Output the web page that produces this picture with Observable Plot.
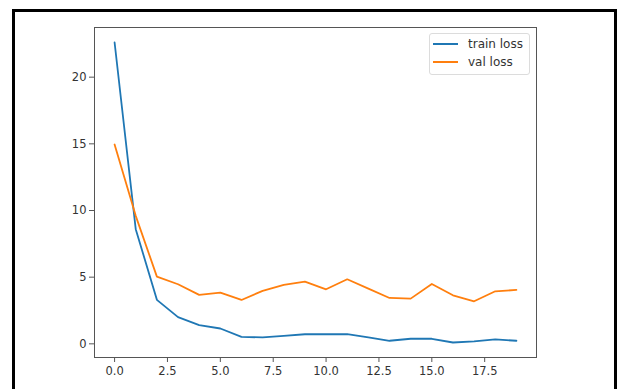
<!DOCTYPE html>
<html>
<head>
<meta charset="utf-8">
<script src="https://cdn.jsdelivr.net/npm/d3@7"></script>
<script src="https://cdn.jsdelivr.net/npm/@observablehq/plot@0.6"></script>
<style>
  html, body { margin: 0; padding: 0; background: #fff; overflow: hidden; }
  #wrap { position: relative; width: 618px; height: 389px; overflow: hidden; }
  #border { position: absolute; left: 12px; top: 9px; width: 605px; height: 392px; box-sizing: border-box; border: 3px solid #000; pointer-events: none; }
  #legend { position: absolute; left: 429px; top: 33px; width: 101px; height: 42px; box-sizing: border-box;
            border: 1px solid #dcdcdc; border-radius: 3px; background: rgba(255,255,255,0.85);
            font-family: "DejaVu Sans", sans-serif; font-size: 12px; color: #333; }
  .row { position: absolute; left: 3px; height: 14px; display: flex; align-items: center; }
  .sw { width: 25px; height: 0; border-top: 2px solid; margin-right: 10px; }
</style>
</head>
<body>
<div id="wrap">
  <div id="chart"></div>
  <div id="legend"></div>
  <div id="border"></div>
</div>
<script>
const epochs = d3.range(0, 20);
const trainLoss = [22.6, 8.6, 3.3, 2.0, 1.4, 1.15, 0.52, 0.48, 0.6, 0.72, 0.72, 0.72, 0.48, 0.23, 0.38, 0.38, 0.1, 0.18, 0.33, 0.23];
const valLoss   = [14.95, 9.6, 5.04, 4.47, 3.67, 3.84, 3.29, 3.97, 4.42, 4.67, 4.09, 4.84, 4.14, 3.44, 3.39, 4.49, 3.64, 3.19, 3.94, 4.04];
const seriesNames = ["train loss", "val loss"];
const seriesColors = ["#1f77b4", "#ff7f0e"];
const xTicks = [0, 2.5, 5, 7.5, 10, 12.5, 15, 17.5];
const yTicks = [0, 5, 10, 15, 20];

const rows = [];
epochs.forEach((e, i) => {
  rows.push({epoch: e, loss: trainLoss[i], series: seriesNames[0]});
  rows.push({epoch: e, loss: valLoss[i], series: seriesNames[1]});
});

const allVals = trainLoss.concat(valLoss);
const yMin = d3.min(allVals), yMax = d3.max(allVals);
const yPad = (yMax - yMin) * 0.05;
const xPad = (d3.max(epochs) - d3.min(epochs)) * 0.05;

const chart = Plot.plot({
  width: 618,
  height: 389,
  marginLeft: 94,
  marginRight: 82,
  marginTop: 27,
  marginBottom: 32,
  style: {fontFamily: "DejaVu Sans, sans-serif", fontSize: "11.5px", color: "#333", background: "#fff"},
  x: {domain: [d3.min(epochs) - xPad, d3.max(epochs) + xPad]},
  y: {domain: [yMin - yPad, yMax + yPad]},
  color: {domain: seriesNames, range: seriesColors},
  marks: [
    Plot.line(rows, {x: "epoch", y: "loss", stroke: "series", strokeWidth: 1.8}),
    Plot.frame({stroke: "#555", strokeWidth: 1}),
    Plot.axisX({ticks: xTicks, tickFormat: d3.format(".1f"), tickSize: 5, tickPadding: 4, label: null, stroke: "#555"}),
    Plot.axisY({ticks: yTicks, tickFormat: d3.format("d"), tickSize: 5, tickPadding: 3, label: null, stroke: "#555"})
  ]
});
document.getElementById("chart").appendChild(chart);

const legend = document.getElementById("legend");
seriesNames.forEach((name, i) => {
  const row = document.createElement("div");
  row.className = "row";
  row.style.top = (3 + i * 18) + "px";
  const sw = document.createElement("div");
  sw.className = "sw";
  sw.style.borderTopColor = seriesColors[i];
  const label = document.createElement("span");
  label.textContent = name;
  row.appendChild(sw);
  row.appendChild(label);
  legend.appendChild(row);
});
</script>
</body>
</html>
